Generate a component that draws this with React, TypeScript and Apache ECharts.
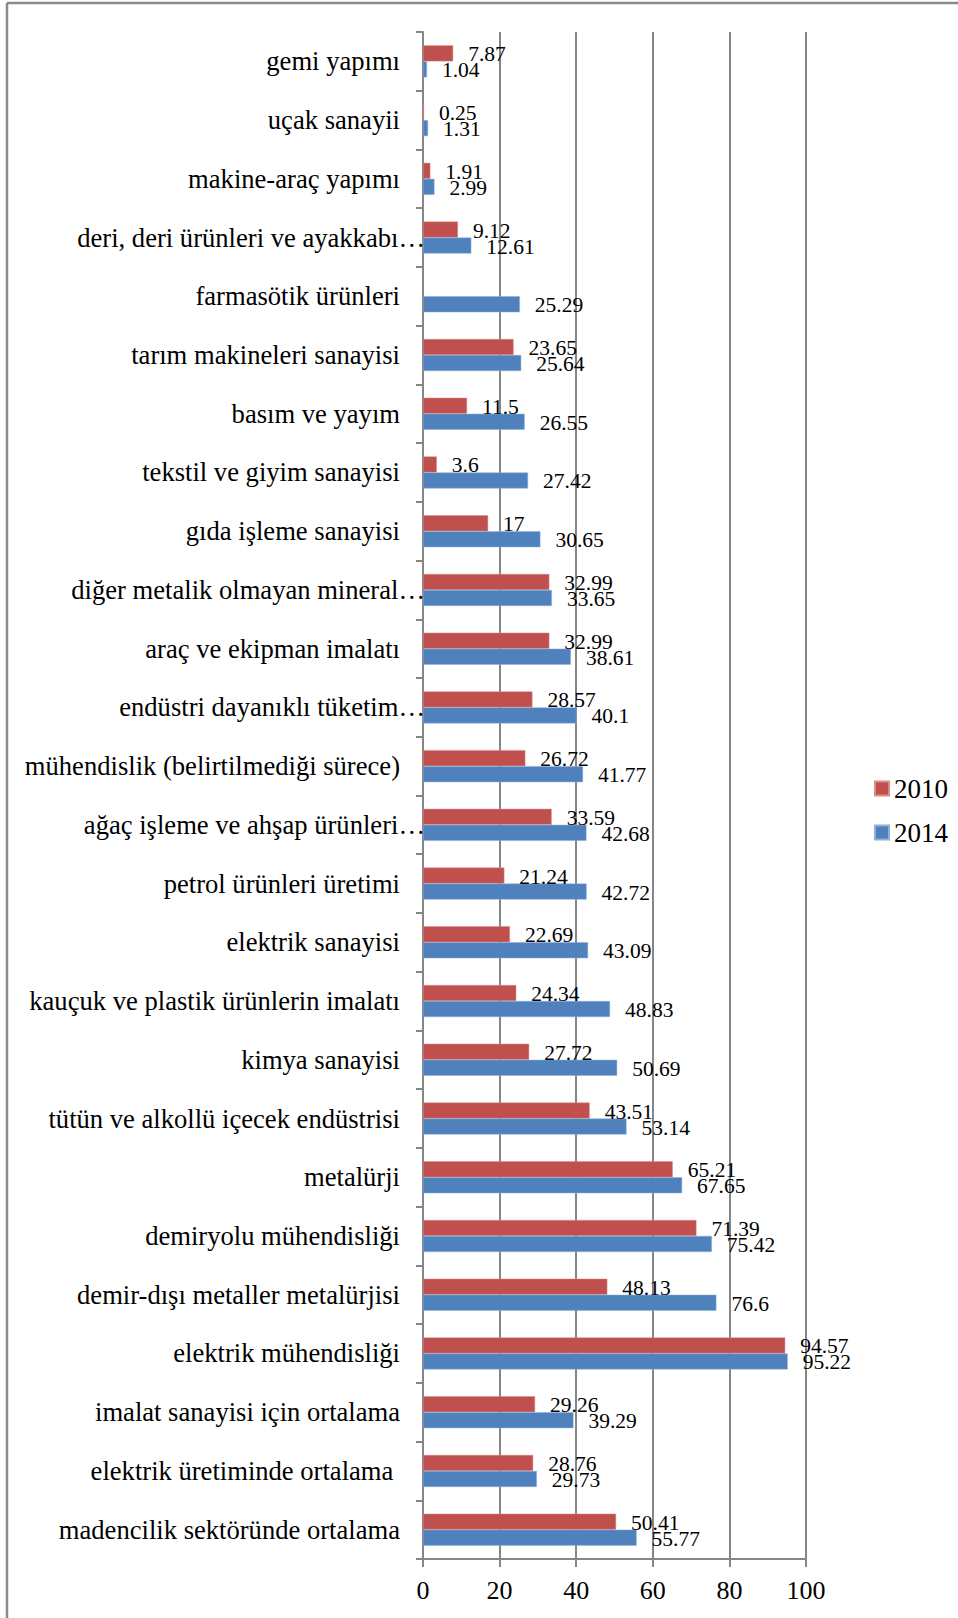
import React, { useEffect, useRef } from "react";
import * as echarts from "echarts";

const categories = [
  "gemi yapımı",
  "uçak sanayii",
  "makine-araç yapımı",
  "deri, deri ürünleri ve ayakkabı…",
  "farmasötik ürünleri",
  "tarım makineleri sanayisi",
  "basım ve yayım",
  "tekstil ve giyim sanayisi",
  "gıda işleme sanayisi",
  "diğer metalik olmayan mineral…",
  "araç ve ekipman imalatı",
  "endüstri dayanıklı tüketim…",
  "mühendislik (belirtilmediği sürece)",
  "ağaç işleme ve ahşap ürünleri…",
  "petrol ürünleri üretimi",
  "elektrik sanayisi",
  "kauçuk ve plastik ürünlerin imalatı",
  "kimya sanayisi",
  "tütün ve alkollü içecek endüstrisi",
  "metalürji",
  "demiryolu mühendisliği",
  "demir-dışı metaller metalürjisi",
  "elektrik mühendisliği",
  "imalat sanayisi için ortalama",
  "elektrik üretiminde ortalama ",
  "madencilik sektöründe ortalama",
];

const values2010: (number | null)[] = [
  7.87, 0.25, 1.91, 9.12, null, 23.65, 11.5, 3.6, 17, 32.99, 32.99, 28.57, 26.72,
  33.59, 21.24, 22.69, 24.34, 27.72, 43.51, 65.21, 71.39, 48.13, 94.57, 29.26,
  28.76, 50.41,
];

const values2014: number[] = [
  1.04, 1.31, 2.99, 12.61, 25.29, 25.64, 26.55, 27.42, 30.65, 33.65, 38.61, 40.1,
  41.77, 42.68, 42.72, 43.09, 48.83, 50.69, 53.14, 67.65, 75.42, 76.6, 95.22,
  39.29, 29.73, 55.77,
];

const seriesNames = ["2010", "2014"];
const xTicks = { min: 0, max: 100, interval: 20 };

const FONT = "'Liberation Serif', 'Times New Roman', serif";
const AXIS_GRAY = "#868686";

export default function App() {
  const ref = useRef<HTMLDivElement>(null);

  useEffect(() => {
    if (!ref.current) return;
    const chart = echarts.init(ref.current, null, { renderer: "svg" });

    const labelStyle = {
      show: true,
      position: "right" as const,
      distance: 15,
      fontFamily: FONT,
      fontSize: 21.5,
      color: "#000",
      offset: [0, 1],
      formatter: (p: any) => String(p.value),
    };

    chart.setOption({
      animation: false,
      backgroundColor: "#fff",
      textStyle: { fontFamily: FONT },
      grid: {
        left: 423,
        right: 152,
        top: 32,
        bottom: 59,
        containLabel: false,
        outerBoundsMode: "none",
      },
      legend: {
        orient: "vertical",
        left: 869,
        top: 770,
        itemWidth: 14,
        itemHeight: 14,
        itemGap: 17,
        icon: "rect",
        data: seriesNames,
        textStyle: { fontFamily: FONT, fontSize: 27, color: "#000" },
      },
      xAxis: {
        type: "value",
        min: xTicks.min,
        max: xTicks.max,
        interval: xTicks.interval,
        axisLine: { show: true, lineStyle: { color: AXIS_GRAY, width: 2 } },
        axisTick: { show: true, length: 8, lineStyle: { color: AXIS_GRAY, width: 2 } },
        splitLine: { show: true, lineStyle: { color: AXIS_GRAY, width: 2 } },
        axisLabel: {
          fontFamily: FONT,
          fontSize: 26,
          color: "#000",
          margin: 18,
        },
      },
      yAxis: {
        type: "category",
        inverse: true,
        data: categories,
        axisLine: { show: true, lineStyle: { color: AXIS_GRAY, width: 2 } },
        axisTick: { show: true, length: 7, lineStyle: { color: AXIS_GRAY, width: 2 } },
        axisLabel: {
          margin: -2,
          fontFamily: FONT,
          fontSize: 26.6,
          color: "#000",
          formatter: (v: string) => (v.endsWith("…") ? `{t|${v}}` : `{n|${v}}`),
          rich: {
            n: { fontFamily: FONT, fontSize: 26.6, color: "#000", padding: [0, 25, 0, 0] },
            t: { fontFamily: FONT, fontSize: 26.6, color: "#000", padding: [0, 0, 0, 0] },
          },
        },
      },
      series: [
        {
          name: seriesNames[0],
          type: "bar",
          data: values2010,
          barWidth: 16,
          barGap: "0%",
          itemStyle: { color: "#C0504D", borderColor: "#d98c8a", borderWidth: 0.5 },
          label: labelStyle,
        },
        {
          name: seriesNames[1],
          type: "bar",
          data: values2014,
          barWidth: 16,
          barGap: "0%",
          itemStyle: { color: "#4F81BD", borderColor: "#8fb0d8", borderWidth: 0.5 },
          label: labelStyle,
        },
      ],
      graphic: [
        {
          type: "line",
          shape: { x1: 7, y1: 3, x2: 958, y2: 3 },
          style: { stroke: "#8a8a8a", lineWidth: 2.5 },
        },
        {
          type: "line",
          shape: { x1: 7, y1: 3, x2: 7, y2: 1618 },
          style: { stroke: "#8a8a8a", lineWidth: 2.5 },
        },
        {
          type: "line",
          shape: { x1: 416, y1: 1559, x2: 423, y2: 1559 },
          style: { stroke: AXIS_GRAY, lineWidth: 2 },
        },
      ],
    });

    return () => chart.dispose();
  }, []);

  return (
    <div
      ref={ref}
      style={{ position: "absolute", left: 0, top: 0, width: 958, height: 1618 }}
    />
  );
}
